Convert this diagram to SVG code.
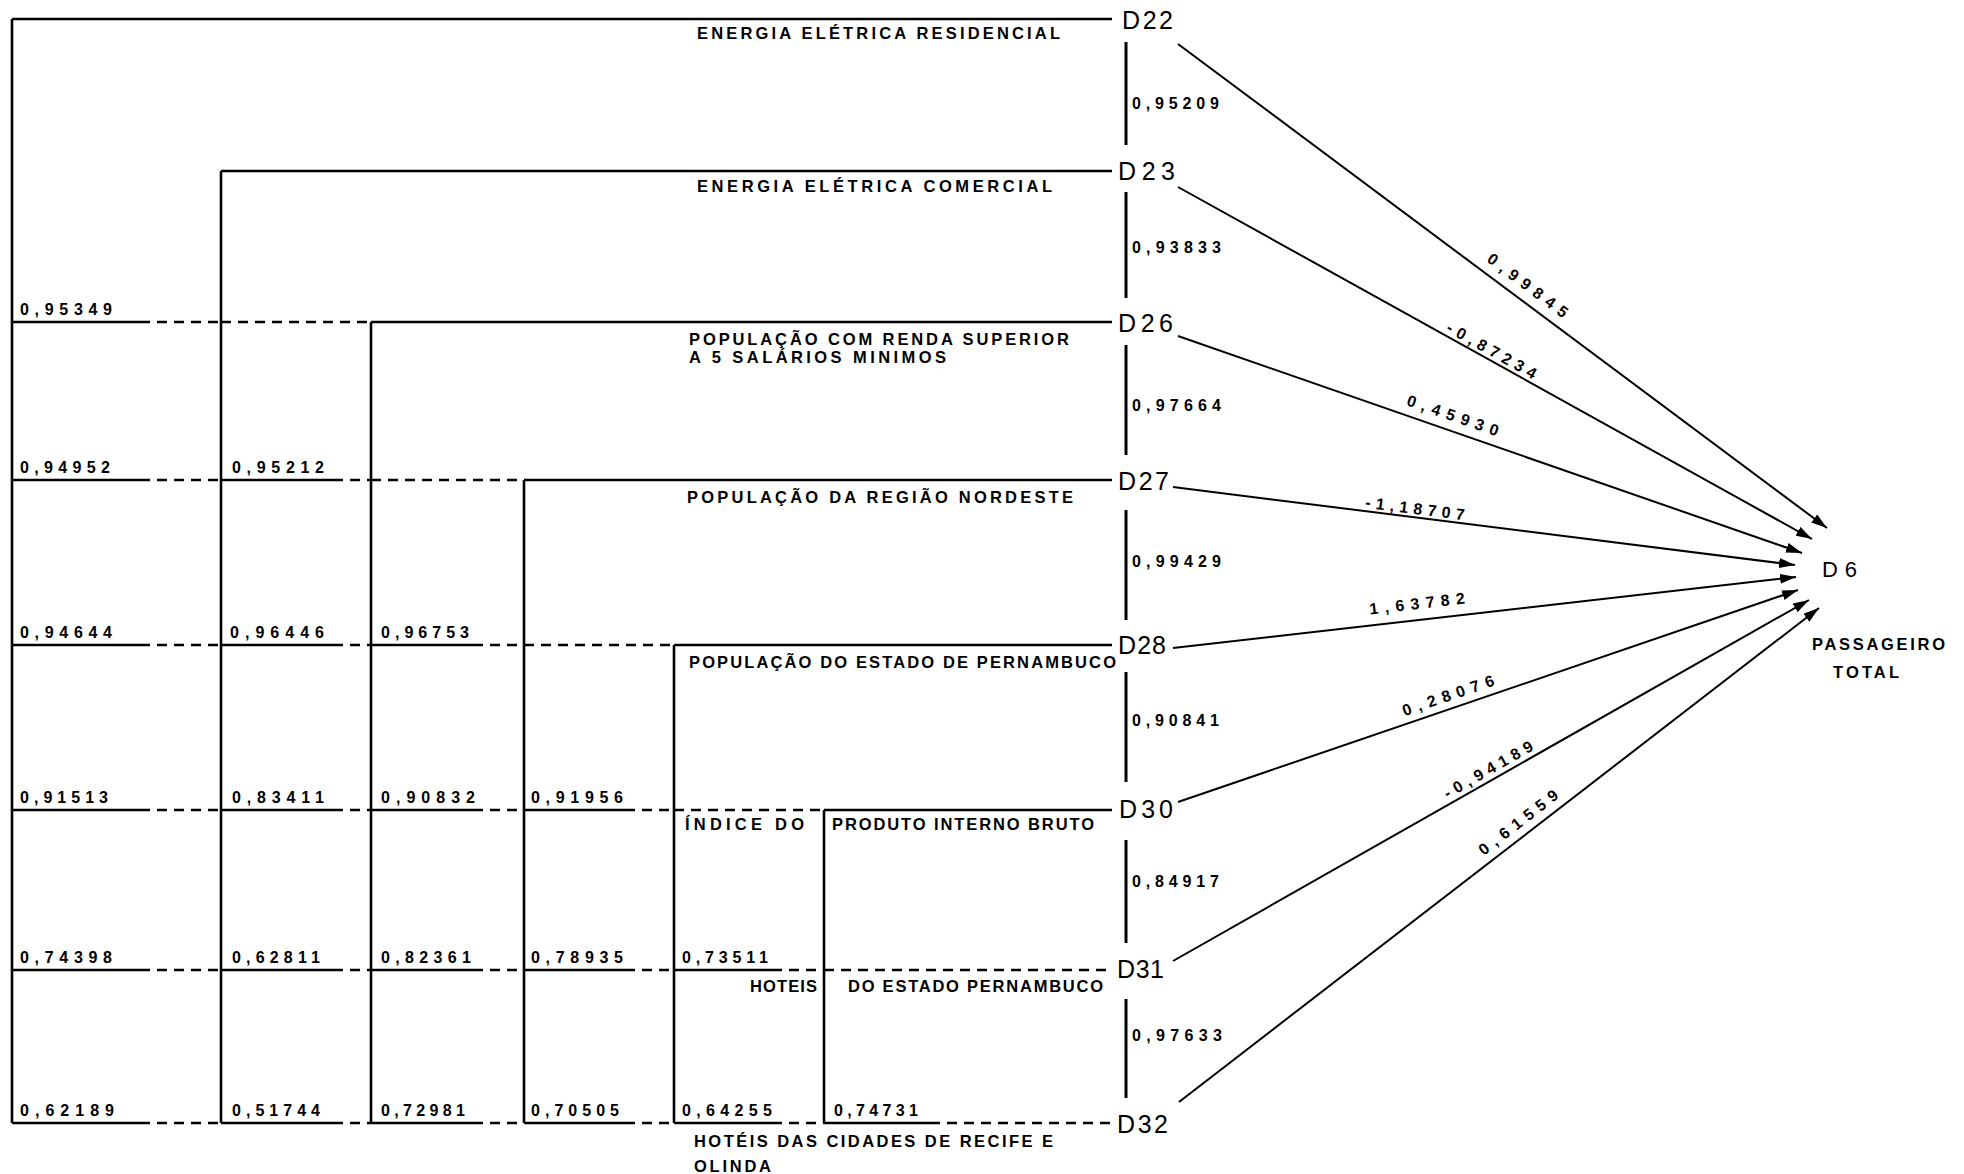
<svg xmlns="http://www.w3.org/2000/svg" width="1964" height="1174" viewBox="0 0 1964 1174">
<style>
.ln{stroke:#000;stroke-width:2.6;fill:none}
.ds{stroke:#000;stroke-width:2.4;fill:none;stroke-dasharray:10 7}
.vs{stroke:#000;stroke-width:3;fill:none}
.ar{stroke:#000;stroke-width:2;fill:none;marker-end:url(#ah)}
.n{font-family:"Liberation Sans",Arial,sans-serif;font-weight:bold;font-size:16px;fill:#000}
.t{font-family:"Liberation Sans",Arial,sans-serif;font-weight:bold;font-size:16.5px;fill:#000}
.d{font-family:"Liberation Sans",Arial,sans-serif;font-size:25px;fill:#000}
.d6{font-family:"Liberation Sans",Arial,sans-serif;font-size:22px;fill:#000}
</style>
<defs>
<marker id="ah" viewBox="0 0 16 10" refX="16" refY="5" markerWidth="16" markerHeight="10" markerUnits="userSpaceOnUse" orient="auto">
<path d="M0,0 L16,5 L0,10 z" fill="#000"/>
</marker>
</defs>
<rect x="0" y="0" width="1964" height="1174" fill="#fff"/>

<g id="connectors">
<!-- column verticals -->
<path class="ln" d="M12,19 V1123 M221,171 V1123 M371,322 V1123 M524,480 V1123 M674,645 V1123 M824,810 V1123"/>
<!-- solid row lines -->
<path class="ln" d="M12,19 H1112 M221,171 H1112 M371,322 H1112 M524,480 H1112 M674,645 H1112 M824,810 H1112"/>
<!-- underlines under cell values -->
<path class="ln" d="M12,322 H140 M12,480 H140 M221,480 H333 M12,645 H140 M221,645 H333 M371,645 H473 M12,810 H140 M221,810 H333 M371,810 H473 M524,810 H625 M12,970 H140 M221,970 H333 M371,970 H473 M524,970 H625 M674,970 H772 M12,1123 H140 M221,1123 H333 M371,1123 H473 M524,1123 H625 M674,1123 H772 M824,1123 H930"/>
<!-- dashed parts -->
<path class="ds" d="M140,322 H221 M221,322 H371 M140,480 H221 M333,480 H371 M371,480 H524 M140,645 H221 M333,645 H371 M473,645 H524 M524,645 H674 M140,810 H221 M333,810 H371 M473,810 H524 M625,810 H674 M674,810 H824 M140,970 H221 M333,970 H371 M473,970 H524 M625,970 H674 M772,970 H824 M824,970 H1112 M140,1123 H221 M333,1123 H371 M473,1123 H524 M625,1123 H674 M772,1123 H824 M930,1123 H1112"/>
<!-- right-side vertical segments -->
<path class="vs" d="M1126,42 V145 M1126,192 V298 M1126,345 V455 M1126,510 V620 M1126,672 V782 M1126,840 V943 M1126,999 V1098"/>
<!-- arrows to D6 -->
<line class="ar" x1="1178" y1="44" x2="1827" y2="528"/>
<line class="ar" x1="1178" y1="187" x2="1812" y2="539"/>
<line class="ar" x1="1178" y1="336" x2="1802" y2="553"/>
<line class="ar" x1="1173" y1="487" x2="1795" y2="565"/>
<line class="ar" x1="1173" y1="648" x2="1796" y2="577"/>
<line class="ar" x1="1178" y1="802" x2="1798" y2="590"/>
<line class="ar" x1="1173" y1="961" x2="1809" y2="600"/>
<line class="ar" x1="1179" y1="1102" x2="1819" y2="608"/>

<!-- correlations between consecutive variables -->
<text class="n" x="1132" y="109" textLength="87" lengthAdjust="spacing">0,95209</text>
<text class="n" x="1132" y="253" textLength="89" lengthAdjust="spacing">0,93833</text>
<text class="n" x="1132" y="411" textLength="89" lengthAdjust="spacing">0,97664</text>
<text class="n" x="1132" y="567" textLength="89" lengthAdjust="spacing">0,99429</text>
<text class="n" x="1132" y="726" textLength="87" lengthAdjust="spacing">0,90841</text>
<text class="n" x="1132" y="887" textLength="87" lengthAdjust="spacing">0,84917</text>
<text class="n" x="1132" y="1041" textLength="90" lengthAdjust="spacing">0,97633</text>

<!-- grid cell values -->
<text class="n" x="20" y="315" textLength="92" lengthAdjust="spacing">0,95349</text>

<text class="n" x="20" y="473" textLength="90" lengthAdjust="spacing">0,94952</text>
<text class="n" x="232" y="473" textLength="92" lengthAdjust="spacing">0,95212</text>

<text class="n" x="20" y="638" textLength="92" lengthAdjust="spacing">0,94644</text>
<text class="n" x="230" y="638" textLength="94" lengthAdjust="spacing">0,96446</text>
<text class="n" x="381" y="638" textLength="88" lengthAdjust="spacing">0,96753</text>

<text class="n" x="20" y="803" textLength="88" lengthAdjust="spacing">0,91513</text>
<text class="n" x="232" y="803" textLength="92" lengthAdjust="spacing">0,83411</text>
<text class="n" x="381" y="803" textLength="94" lengthAdjust="spacing">0,90832</text>
<text class="n" x="531" y="803" textLength="92" lengthAdjust="spacing">0,91956</text>

<text class="n" x="20" y="963" textLength="92" lengthAdjust="spacing">0,74398</text>
<text class="n" x="232" y="963" textLength="88" lengthAdjust="spacing">0,62811</text>
<text class="n" x="381" y="963" textLength="90" lengthAdjust="spacing">0,82361</text>
<text class="n" x="531" y="963" textLength="92" lengthAdjust="spacing">0,78935</text>
<text class="n" x="682" y="963" textLength="86" lengthAdjust="spacing">0,73511</text>

<text class="n" x="20" y="1116" textLength="94" lengthAdjust="spacing">0,62189</text>
<text class="n" x="232" y="1116" textLength="88" lengthAdjust="spacing">0,51744</text>
<text class="n" x="381" y="1116" textLength="84" lengthAdjust="spacing">0,72981</text>
<text class="n" x="531" y="1116" textLength="88" lengthAdjust="spacing">0,70505</text>
<text class="n" x="682" y="1116" textLength="90" lengthAdjust="spacing">0,64255</text>
<text class="n" x="834" y="1116" textLength="84" lengthAdjust="spacing">0,74731</text>

<!-- path coefficients -->
<text class="n" text-anchor="middle" textLength="96" lengthAdjust="spacing" transform="translate(1528,285) rotate(36.7)" x="0" y="6">0,99845</text>
<text class="n" text-anchor="middle" textLength="100" lengthAdjust="spacing" transform="translate(1492,350) rotate(29)" x="0" y="6">-0,87234</text>
<text class="n" text-anchor="middle" textLength="96" lengthAdjust="spacing" transform="translate(1453,415) rotate(19.1)" x="0" y="6">0,45930</text>
<text class="n" text-anchor="middle" textLength="100" lengthAdjust="spacing" transform="translate(1415,508) rotate(7.3)" x="0" y="6">-1,18707</text>
<text class="n" text-anchor="middle" textLength="96" lengthAdjust="spacing" transform="translate(1417,603) rotate(-6.5)" x="0" y="6">1,63782</text>
<text class="n" text-anchor="middle" textLength="96" lengthAdjust="spacing" transform="translate(1448,695) rotate(-18.9)" x="0" y="6">0,28076</text>
<text class="n" text-anchor="middle" textLength="100" lengthAdjust="spacing" transform="translate(1488,769) rotate(-29.6)" x="0" y="6">-0,94189</text>
<text class="n" text-anchor="middle" textLength="96" lengthAdjust="spacing" transform="translate(1518,822) rotate(-37.7)" x="0" y="6">0,61559</text>
</g>

<g id="node-D22">
<text class="d" x="1122" y="29" textLength="51" lengthAdjust="spacing">D22</text>
<text class="t" x="697" y="39" textLength="363" lengthAdjust="spacing">ENERGIA  ELÉTRICA RESIDENCIAL</text>
</g>
<g id="node-D23">
<text class="d" x="1118" y="180" textLength="57" lengthAdjust="spacing">D23</text>
<text class="t" x="697" y="192" textLength="355" lengthAdjust="spacing">ENERGIA  ELÉTRICA  COMERCIAL</text>
</g>
<g id="node-D26">
<text class="d" x="1118" y="332" textLength="55" lengthAdjust="spacing">D26</text>
<text class="t" x="689" y="345" textLength="380" lengthAdjust="spacing">POPULAÇÃO COM RENDA SUPERIOR</text>
<text class="t" x="689" y="363" textLength="257" lengthAdjust="spacing">A 5 SALÁRIOS MINIMOS</text>
</g>
<g id="node-D27">
<text class="d" x="1118" y="490" textLength="51" lengthAdjust="spacing">D27</text>
<text class="t" x="687" y="503" textLength="386" lengthAdjust="spacing">POPULAÇÃO DA REGIÃO NORDESTE</text>
</g>
<g id="node-D28">
<text class="d" x="1118" y="654" textLength="48" lengthAdjust="spacing">D28</text>
<text class="t" x="689" y="668" textLength="427" lengthAdjust="spacing">POPULAÇÃO DO ESTADO DE PERNAMBUCO</text>
</g>
<g id="node-D30">
<text class="d" x="1119" y="818" textLength="54" lengthAdjust="spacing">D30</text>
<text class="t" x="685" y="830" textLength="119" lengthAdjust="spacing">ÍNDICE  DO</text>
<text class="t" x="832" y="830" textLength="262" lengthAdjust="spacing">PRODUTO INTERNO BRUTO</text>
</g>
<g id="node-D31">
<text class="d" x="1117" y="978" textLength="47" lengthAdjust="spacing">D31</text>
<text class="t" x="750" y="992" textLength="67" lengthAdjust="spacing">HOTEIS</text>
<text class="t" x="848" y="992" textLength="255" lengthAdjust="spacing">DO  ESTADO PERNAMBUCO</text>
</g>
<g id="node-D32">
<text class="d" x="1117" y="1133" textLength="51" lengthAdjust="spacing">D32</text>
<text class="t" x="694" y="1147" textLength="359" lengthAdjust="spacing">HOTÉIS DAS CIDADES DE RECIFE  E</text>
<text class="t" x="694" y="1172" textLength="77" lengthAdjust="spacing">OLINDA</text>
</g>
<g id="node-D6">
<text class="d6" x="1822" y="577" textLength="35" lengthAdjust="spacing">D6</text>
<text class="t" x="1812" y="650" textLength="133" lengthAdjust="spacing">PASSAGEIRO</text>
<text class="t" x="1833" y="678" textLength="66" lengthAdjust="spacing">TOTAL</text>
</g>
</svg>
